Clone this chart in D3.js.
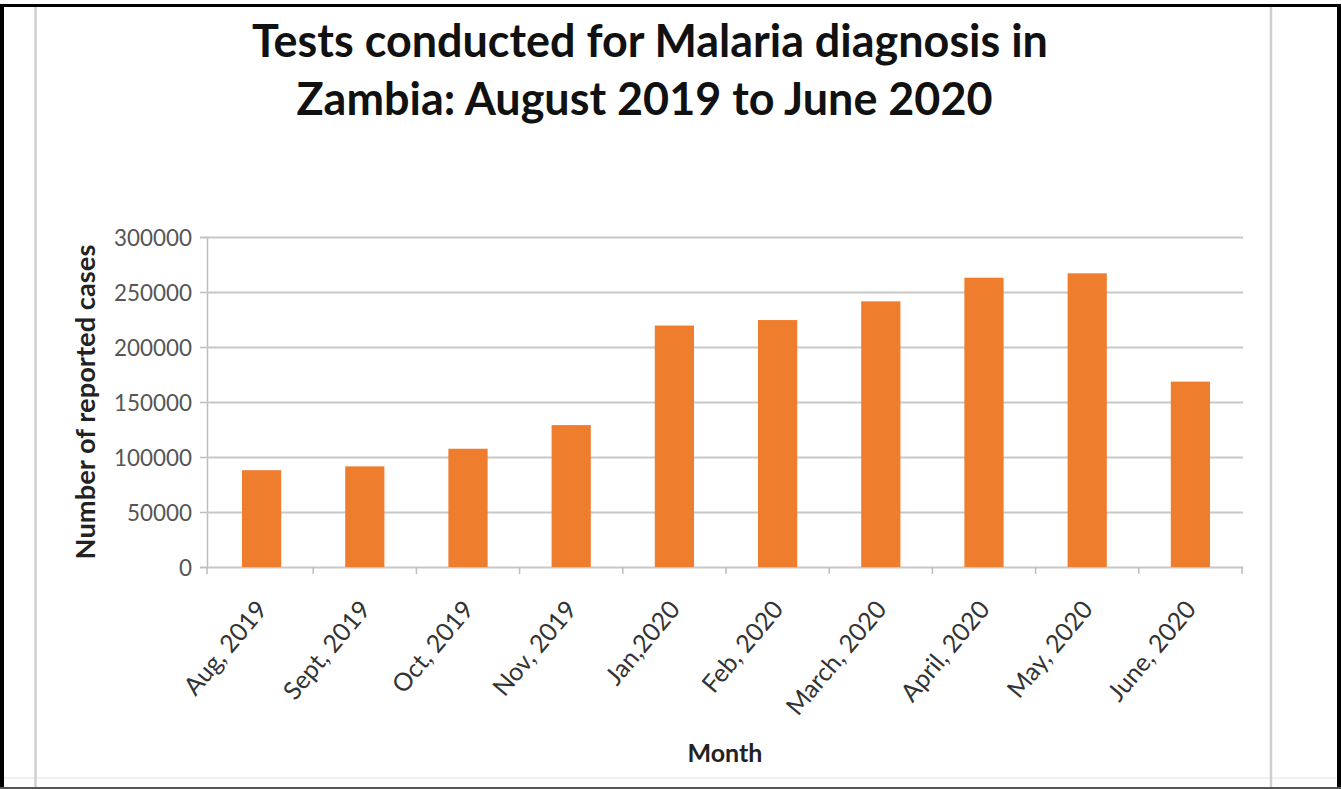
<!DOCTYPE html>
<html>
<head>
<meta charset="utf-8">
<script src="https://cdn.jsdelivr.net/npm/d3@7"></script>
<style>
  html, body { margin: 0; padding: 0; background: #fff; }
  svg { display: block; }
  text { font-family: Lato, "Open Sans", sans-serif; }
</style>
</head>
<body>
<svg id="chart" width="1341" height="789"></svg>
<script>
// Monthly malaria diagnostic tests, Zambia
const months = ["Aug, 2019", "Sept, 2019", "Oct, 2019", "Nov, 2019", "Jan,2020",
                "Feb, 2020", "March, 2020", "April, 2020", "May, 2020", "June, 2020"];
const tests = [88000, 91500, 107500, 129000, 219500, 224500, 241500, 263000, 267000, 168500];
const yTicks = [0, 50000, 100000, 150000, 200000, 250000, 300000];
const titleLines = ["Tests conducted for Malaria diagnosis in", "Zambia: August 2019 to June 2020"];

const svg = d3.select("#chart");
const W = 1341, H = 789;

// page frame and chart-area edges
svg.append("rect").attr("x", 0).attr("y", 0).attr("width", W).attr("height", H).attr("fill", "#fff");
svg.append("line").attr("x1", 2).attr("x2", 2).attr("y1", 4).attr("y2", H).attr("stroke", "#000").attr("stroke-width", 4);
svg.append("line").attr("x1", 1339).attr("x2", 1339).attr("y1", 4).attr("y2", H).attr("stroke", "#000").attr("stroke-width", 4);
svg.append("line").attr("x1", 0).attr("x2", W).attr("y1", 5.5).attr("y2", 5.5).attr("stroke", "#000").attr("stroke-width", 3);
svg.append("line").attr("x1", 0).attr("x2", W).attr("y1", 788).attr("y2", 788).attr("stroke", "#555").attr("stroke-width", 2);
svg.append("line").attr("x1", 4).attr("x2", 1337).attr("y1", 778).attr("y2", 778).attr("stroke", "#ececec").attr("stroke-width", 1.5);
[35.5, 1271].forEach(x => {
  svg.append("line").attr("x1", x).attr("x2", x).attr("y1", 7).attr("y2", 787)
    .attr("stroke", "#cfcfcf").attr("stroke-width", 2.5);
});

// scales
const x = d3.scaleBand().domain(months).range([210, 1242]).paddingInner(0.62).paddingOuter(0.31);
const y = d3.scaleLinear().domain([0, 300000]).range([567, 237]);
const plotL = 207, plotR = 1243;

// helper: scale a text's font so its length matches a target width
function fitText(sel, target) {
  const fs = +sel.attr("font-size");
  const w = sel.node().getComputedTextLength();
  sel.attr("font-size", fs * target / w);
  return fs * target / w;
}

// gridlines + left tick marks
const yAxis = d3.axisLeft(y).tickValues(yTicks).tickSize(7).tickFormat(d3.format("d"));
const gy = svg.append("g").attr("transform", `translate(${plotL},0)`).call(yAxis);
gy.select(".domain").attr("stroke", "#bdbdbd").attr("stroke-width", 1.5);
gy.selectAll(".tick line").attr("stroke", "#bdbdbd").attr("stroke-width", 1.5);
gy.selectAll(".tick text").attr("fill", "#555").attr("font-size", 22).attr("x", -15).attr("dy", "0.36em");
const topLabel = gy.selectAll(".tick text").filter(d => d === 300000);
const tickFs = fitText(topLabel, 78);
gy.selectAll(".tick text").attr("font-size", tickFs);
gy.selectAll(".tick").append("line")
  .attr("x1", 0).attr("x2", plotR - plotL)
  .attr("stroke", "#c8c8c8").attr("stroke-width", 2);

// x-axis ticks at category boundaries
const bounds = months.map((m, i) => x(m) - x.step() * x.paddingInner() / 2);
bounds.push(x(months[months.length - 1]) + x.bandwidth() + x.step() * x.paddingInner() / 2);
svg.append("g").selectAll("line").data(bounds.slice(1)).join("line")
  .attr("x1", d => d).attr("x2", d => d).attr("y1", y(0)).attr("y2", y(0) + 7)
  .attr("stroke", "#bdbdbd").attr("stroke-width", 1.5);
svg.append("line").attr("x1", plotL).attr("x2", plotL).attr("y1", y(0)).attr("y2", y(0) + 7)
  .attr("stroke", "#bdbdbd").attr("stroke-width", 1.5);

// bars
svg.append("g").selectAll("rect").data(months).join("rect")
  .attr("x", d => x(d))
  .attr("width", x.bandwidth())
  .attr("y", (d, i) => y(tests[i]))
  .attr("height", (d, i) => y(0) - y(tests[i]))
  .attr("fill", "#ef7d2e");

// rotated category labels
svg.append("g").selectAll("text").data(months).join("text")
  .attr("transform", d => `translate(${x(d) + x.bandwidth() / 2 + 7},610) rotate(-50)`)
  .attr("text-anchor", "end")
  .attr("font-size", 25)
  .attr("fill", "#333")
  .text(d => d);

// title
const t1 = svg.append("text").attr("x", 650).attr("y", 57).attr("text-anchor", "middle")
  .attr("font-weight", "bold").attr("font-size", 44).attr("fill", "#111").text(titleLines[0]);
const tfs = fitText(t1, 796);
svg.append("text").attr("x", 644.5).attr("y", 115).attr("text-anchor", "middle")
  .attr("font-weight", "bold").attr("font-size", tfs).attr("fill", "#111").text(titleLines[1]);

// axis titles
const yt = svg.append("text").attr("transform", "translate(95,402) rotate(-90)")
  .attr("text-anchor", "middle").attr("font-weight", "bold").attr("font-size", 20)
  .attr("fill", "#222").text("Number of reported cases");
fitText(yt, 315);
const xt = svg.append("text").attr("x", 725).attr("y", 762).attr("text-anchor", "middle")
  .attr("font-weight", "bold").attr("font-size", 24).attr("fill", "#222").text("Month");
fitText(xt, 75);
</script>
</body>
</html>
